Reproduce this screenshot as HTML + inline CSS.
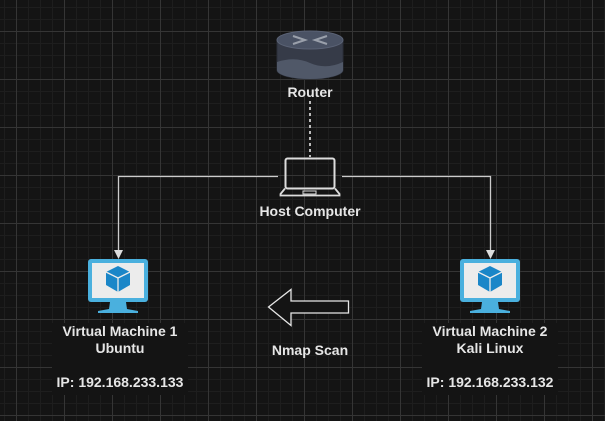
<!DOCTYPE html>
<html><head><style>
html,body{margin:0;padding:0}
body{width:605px;height:421px;overflow:hidden;position:relative;background-color:#141414;
background-image:
linear-gradient(#353535 1px,transparent 1px),
linear-gradient(90deg,#353535 1px,transparent 1px),
linear-gradient(#1e1e1e 1px,transparent 1px),
linear-gradient(90deg,#1e1e1e 1px,transparent 1px);
background-size:48px 48px,48px 48px,12px 12px,12px 12px;
background-position:0 31px,16px 0,0 7px,4px 0;
font-family:"Liberation Sans",sans-serif;font-weight:bold;color:#e6e6e6;font-size:14px}
.lbl{position:absolute;text-align:center;background:#141414;line-height:17px}
svg{position:absolute;left:0;top:0}
</style></head><body>
<div class="lbl" style="left:52px;top:323px;width:136px;height:72px;">Virtual Machine 1<br>Ubuntu<br><br>IP: 192.168.233.133</div>
<div class="lbl" style="left:422px;top:323px;width:136px;height:72px;">Virtual Machine 2<br>Kali Linux<br><br>IP: 192.168.233.132</div>
<svg width="605" height="421" viewBox="0 0 605 421">
<line x1="310" y1="101" x2="310" y2="157" stroke="#bbb" stroke-width="2" stroke-dasharray="3,3"/>
<polyline points="278,176.5 118.5,176.5 118.5,252" fill="none" stroke="#ccc" stroke-width="1.3"/>
<polygon points="114,250 123,250 118.5,259" fill="#ddd"/>
<polyline points="342,176.5 490.5,176.5 490.5,252" fill="none" stroke="#ccc" stroke-width="1.3"/>
<polygon points="486,250 495,250 490.5,259" fill="#ddd"/>
<path d="M277,40 L277,70 A33,9 0 0 0 343,70 L343,40 Z" fill="#363b48" stroke="#2a2e38"/>
<path d="M277,62 Q295,56 310,63 Q326,70 343,62 L343,70 A33,9 0 0 1 277,70 Z" fill="#505868"/>
<ellipse cx="310" cy="40" rx="33" ry="9" fill="#4a5264" stroke="#5a6275"/>
<g stroke="#9aa0ab" stroke-width="2" fill="none">
<path d="M293,36 L305,40 L293,44"/><path d="M327,36 L315,40 L327,44"/>
</g>
<rect x="285.5" y="158.5" width="49" height="30" rx="2" fill="none" stroke="#ddd" stroke-width="2"/>
<path d="M285,188.5 L280.5,194 L280.5,195.5 L339.5,195.5 L339.5,194 L335,188.5" fill="none" stroke="#ddd" stroke-width="1.8"/>
<rect x="303" y="191" width="13" height="3" fill="none" stroke="#ddd" stroke-width="1"/>
<g>
<rect x="88" y="259" width="60" height="43" rx="3" fill="#4ab0de"/>
<rect x="92" y="263" width="52" height="35" fill="#ececec"/>
<path d="M110,302 L126,302 L127,309 L138,311 L138,313 L98,313 L98,311 L109,309 Z" fill="#4ab0de"/>
<polygon points="118,266 130,272 130,285 118,292 106,285 106,272" fill="#1a86c8"/>
<path d="M106,272 L118,278 L130,272 M118,278 L118,292" stroke="#ececec" stroke-width="1.3" fill="none"/>
</g>
<g transform="translate(372,0)">
<rect x="88" y="259" width="60" height="43" rx="3" fill="#4ab0de"/>
<rect x="92" y="263" width="52" height="35" fill="#ececec"/>
<path d="M110,302 L126,302 L127,309 L138,311 L138,313 L98,313 L98,311 L109,309 Z" fill="#4ab0de"/>
<polygon points="118,266 130,272 130,285 118,292 106,285 106,272" fill="#1a86c8"/>
<path d="M106,272 L118,278 L130,272 M118,278 L118,292" stroke="#ececec" stroke-width="1.3" fill="none"/>
</g>
<polygon points="268.5,307 291,289.5 291,301 348.5,301 348.5,313 291,313 291,325.5" fill="#141414" stroke="#e6e6e6" stroke-width="1.3"/>
<text x="310" y="97" text-anchor="middle" fill="#e6e6e6" font-family="Liberation Sans" font-weight="bold" font-size="14">Router</text>
<text x="310" y="216" text-anchor="middle" fill="#e6e6e6" font-family="Liberation Sans" font-weight="bold" font-size="14">Host Computer</text>
<text x="310" y="355" text-anchor="middle" fill="#e6e6e6" font-family="Liberation Sans" font-weight="bold" font-size="14">Nmap Scan</text>
</svg>
</body></html>
